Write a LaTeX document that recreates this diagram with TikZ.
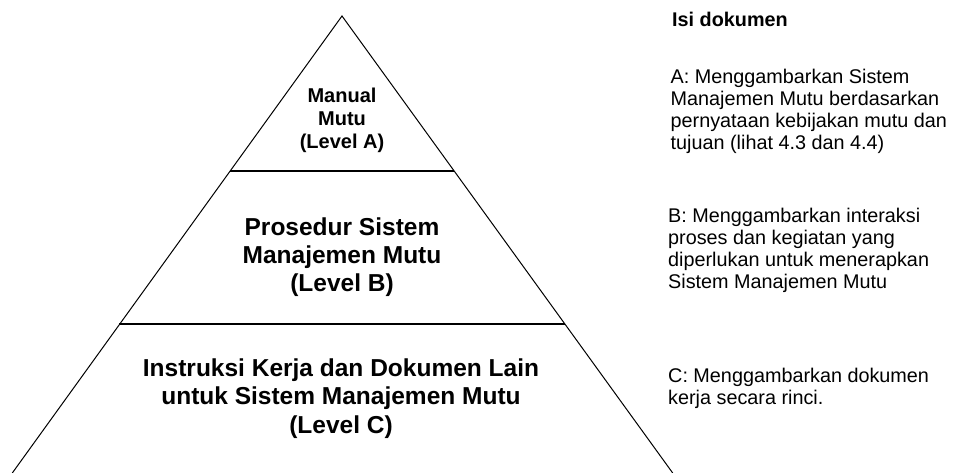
\documentclass[tikz,border=0pt]{standalone}
\usepackage{fontspec}
\setmainfont{Liberation Sans}
\begin{document}
\begin{tikzpicture}[x=1pt,y=-1pt,
  edge/.style={line width=1pt,black},
  tier/.style={line width=1.5pt,black},
  lvlsmall/.style={font=\fontsize{20}{22.7}\selectfont\bfseries,align=center,inner sep=0pt,anchor=north},
  lvlbig/.style={font=\fontsize{24.5}{28.2}\selectfont\bfseries,align=center,inner sep=0pt,anchor=north},
  note/.style={font=\fontsize{19.8}{21.85}\selectfont,align=left,inner sep=0pt,anchor=north west}]
\useasboundingbox (0,0) rectangle (955,473);
\begin{scope}
\clip (0,0) rectangle (955,473);
\coordinate (apex) at (342,16);
\coordinate (bl) at (12.3,473);
\coordinate (br) at (672.7,473);
\draw[edge] (bl) -- (apex) -- (br);
\end{scope}
\coordinate (t1l) at (230.3,171);
\coordinate (t1r) at (454.2,171);
\coordinate (t2l) at (119.1,324);
\coordinate (t2r) at (564.9,324);
\draw[tier] (t1l) -- (t1r);
\draw[tier] (t2l) -- (t2r);
\node[lvlsmall] (la) at (342,88) {Manual\\Mutu\\(Level A)};
\node[lvlbig] (lb) at (342,217.1) {Prosedur Sistem\\Manajemen Mutu\\(Level B)};
\node[lvlbig] (lc) at (341,358.8) {Instruksi Kerja dan Dokumen Lain\\untuk Sistem Manajemen Mutu\\(Level C)};
\node[note,font=\fontsize{19.8}{21.85}\selectfont\bfseries] (isi) at (672,11.7) {Isi dokumen};
\node[note] (na) at (670.5,69) {A: Menggambarkan Sistem\\Manajemen Mutu berdasarkan\\pernyataan kebijakan mutu dan\\tujuan (lihat 4.3 dan 4.4)};
\node[note] (nb) at (668,208.4) {B: Menggambarkan interaksi\\proses dan kegiatan yang\\diperlukan untuk menerapkan\\Sistem Manajemen Mutu};
\node[note] (nc) at (668,368.2) {C: Menggambarkan dokumen\\kerja secara rinci.};
\end{tikzpicture}
\end{document}
